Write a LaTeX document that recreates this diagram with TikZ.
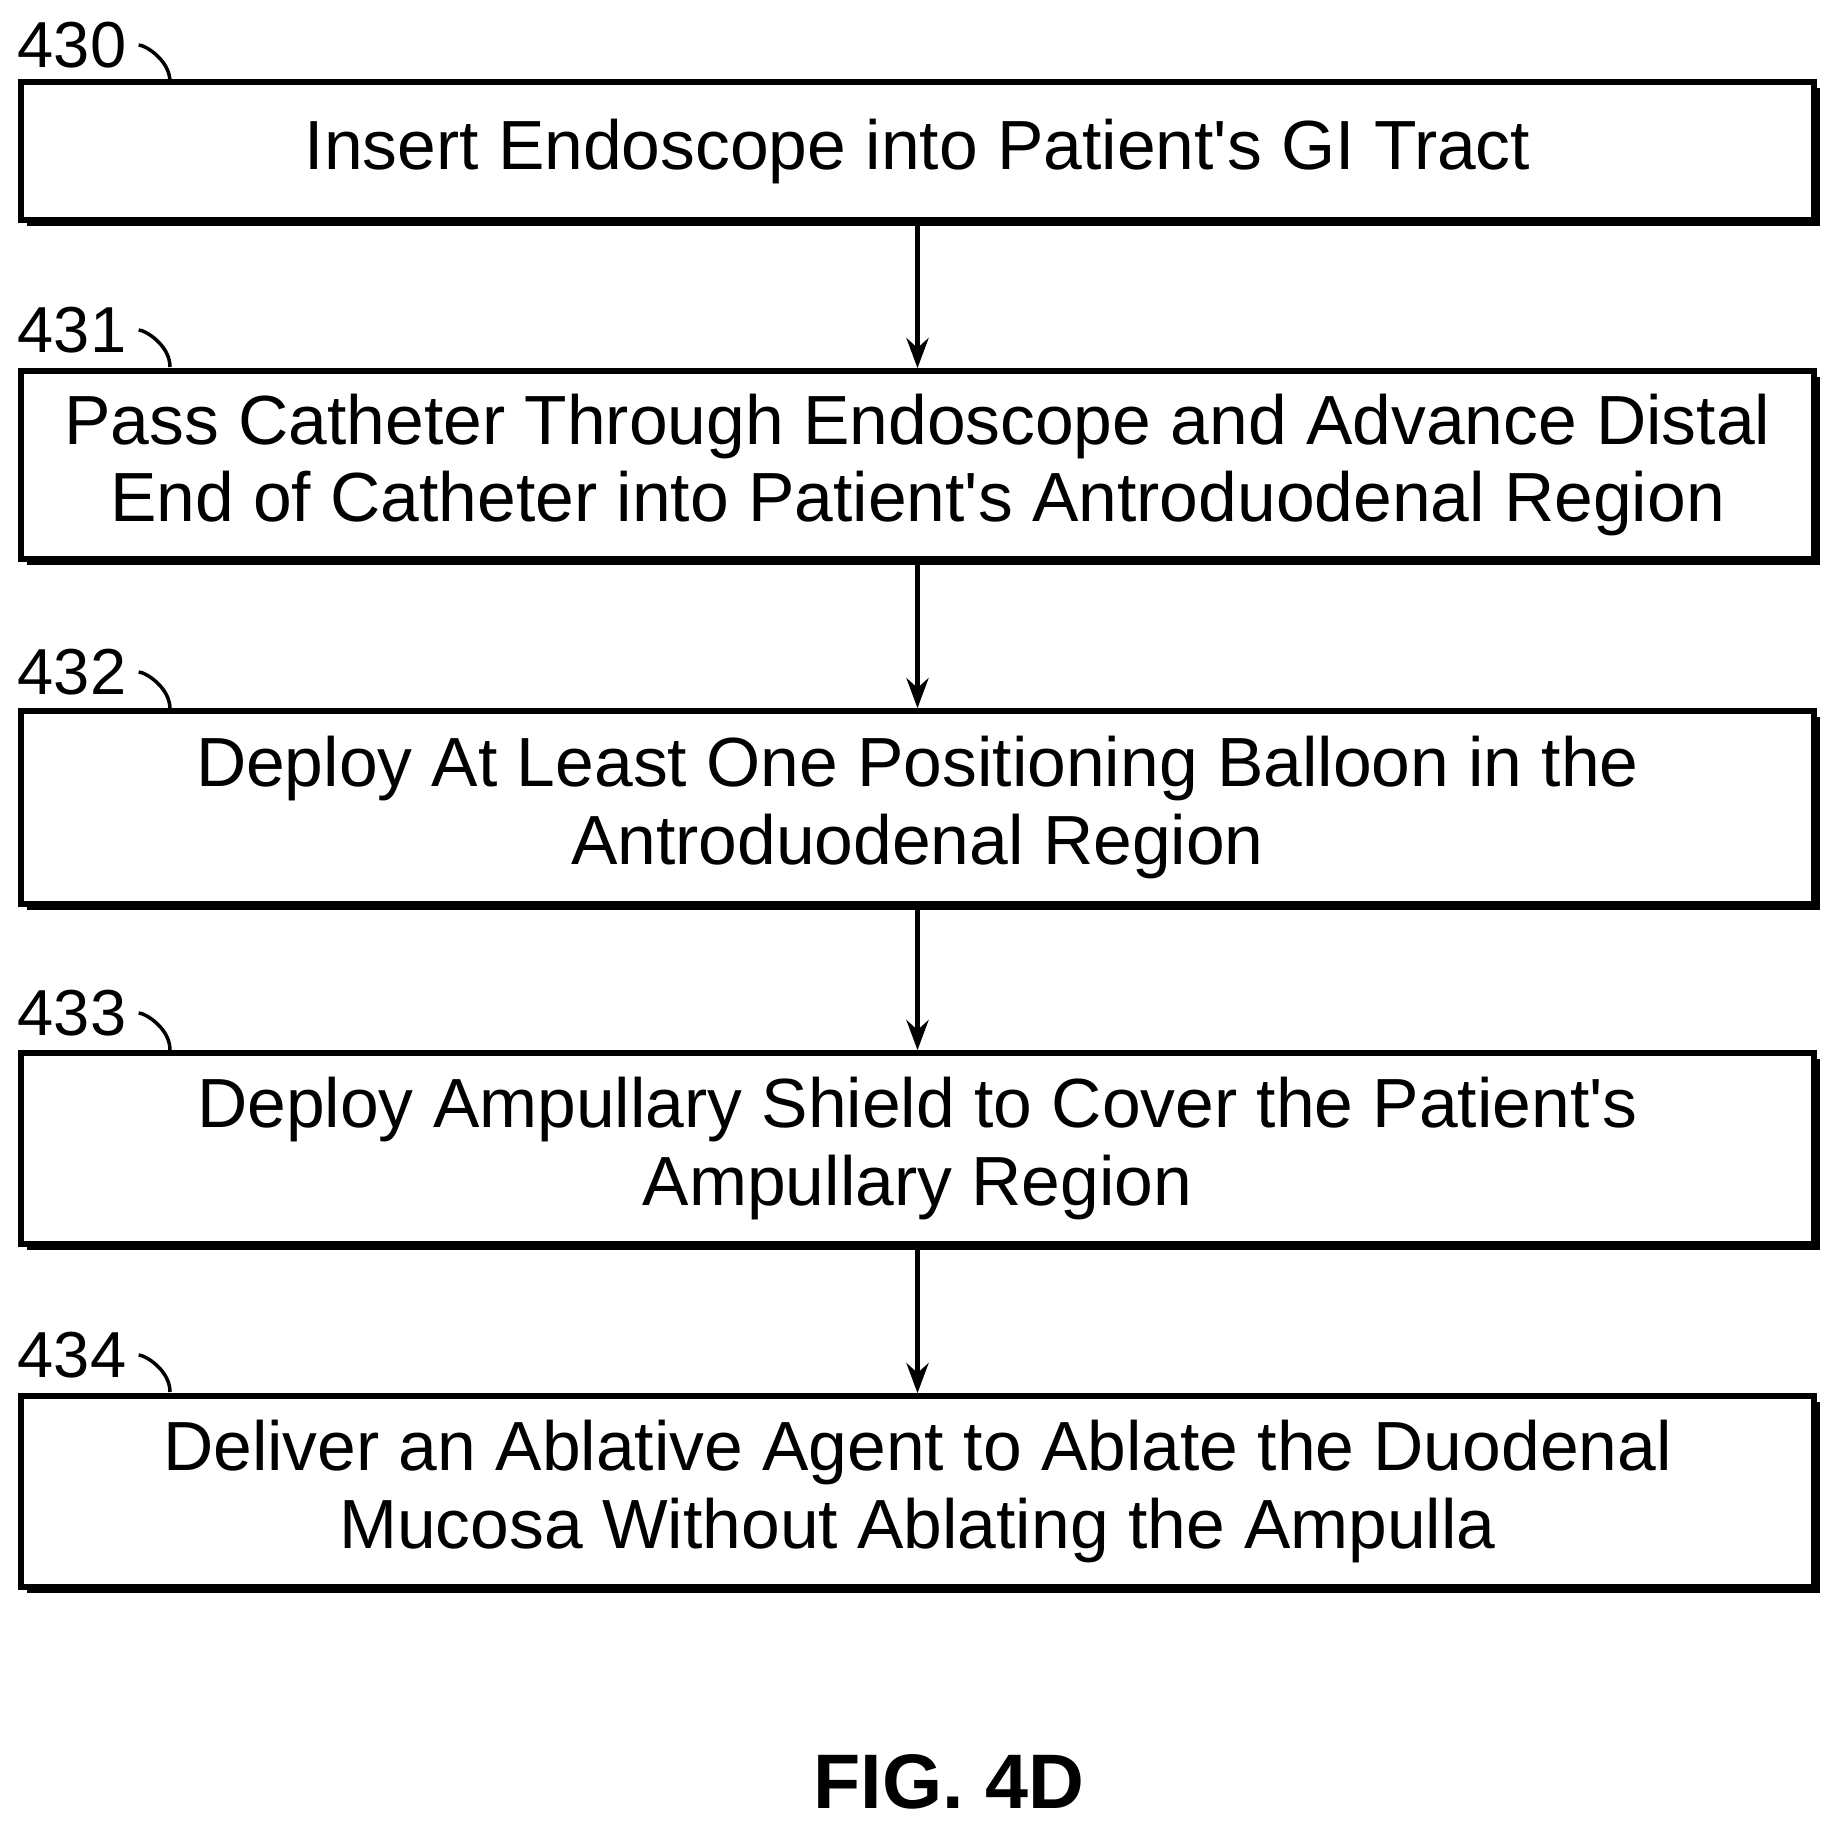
\documentclass[tikz,border=0pt]{standalone}
\usepackage{fontspec}
\setmainfont{Liberation Sans}
\usetikzlibrary{positioning,shadows,arrows.meta}

\begin{document}
\begin{tikzpicture}[
    x=1cm, y=-1cm,
    stepbox/.style={rectangle, draw, line width=1.6pt, fill=white, minimum width=17.93cm, align=center, font=\fontsize{19.8}{22}\selectfont, drop shadow={shadow xshift=0.06cm, shadow yshift=-0.06cm, fill=black, opacity=1}},
    reflabel/.style={font=\fontsize{18.5}{22}\selectfont, anchor=center},
    arrow/.style={-{Stealth[length=0.3cm,width=0.22cm]}, line width=1.4pt}
]
\useasboundingbox (0,0) rectangle (18.41,18.26);

% Steps
\node[stepbox, minimum height=1.38cm] (s430) at (9.175,1.51) {Insert Endoscope into Patient\textquotesingle s GI Tract};
\node[stepbox, minimum height=1.88cm] (s431) at (9.175,4.65) {Pass Catheter Through Endoscope and Advance Distal\\End of Catheter into Patient\textquotesingle s Antroduodenal Region};
\node[stepbox, minimum height=1.93cm] (s432) at (9.175,8.075) {Deploy At Least One Positioning Balloon in the\\Antroduodenal Region};
\node[stepbox, minimum height=1.91cm] (s433) at (9.175,11.485) {Deploy Ampullary Shield to Cover the Patient\textquotesingle s\\Ampullary Region};
\node[stepbox, minimum height=1.91cm] (s434) at (9.175,14.915) {Deliver an Ablative Agent to Ablate the Duodenal\\Mucosa Without Ablating the Ampulla};

% Reference numerals
\foreach \n/\y in {430/0.45, 431/3.30, 432/6.72, 433/10.13, 434/13.55} {
  \node[reflabel] (l\n) at (0.72,\y) {\n};
  \draw[line width=1pt] (l\n.east) .. controls (1.45,\y) and (1.70,\y+0.15) .. (1.70,\y+0.37);
}

% Arrows
\draw[arrow] (s430) -- (s431);
\draw[arrow] (s431) -- (s432);
\draw[arrow] (s432) -- (s433);
\draw[arrow] (s433) -- (s434);

% Caption
\node[font=\fontsize{22}{26}\selectfont\bfseries] (fig) at (9.49,17.82) {FIG. 4D};
\end{tikzpicture}
\end{document}
